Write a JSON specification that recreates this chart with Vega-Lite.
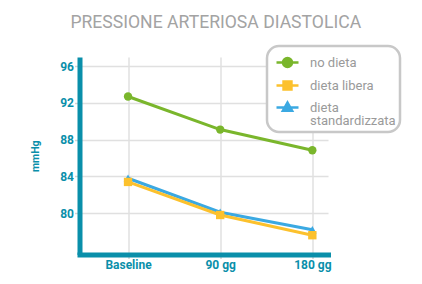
{
  "$schema": "https://vega.github.io/schema/vega-lite/v6.json",
  "width": 248.5,
  "height": 197.5,
  "autosize": {"type": "none"},
  "padding": {"left": 79.5, "top": 57, "right": 94, "bottom": 29.5},
  "background": "white",
  "title": {
    "text": "PRESSIONE ARTERIOSA DIASTOLICA",
    "anchor": "middle",
    "fontSize": 17.6,
    "fontWeight": "normal",
    "color": "#a3a3a3",
    "font": "Roboto",
    "baseline": "alphabetic",
    "offset": -1,
    "dx": 12
  },
  "data": {
    "values": [
      {"giorni": 0, "mmHg": 92.7, "gruppo": "no dieta"},
      {"giorni": 90, "mmHg": 89.1, "gruppo": "no dieta"},
      {"giorni": 180, "mmHg": 86.85, "gruppo": "no dieta"},
      {"giorni": 0, "mmHg": 83.8, "gruppo": "dieta standardizzata"},
      {"giorni": 90, "mmHg": 80.1, "gruppo": "dieta standardizzata"},
      {"giorni": 180, "mmHg": 78.2, "gruppo": "dieta standardizzata"},
      {"giorni": 0, "mmHg": 83.4, "gruppo": "dieta libera"},
      {"giorni": 90, "mmHg": 79.8, "gruppo": "dieta libera"},
      {"giorni": 180, "mmHg": 77.6, "gruppo": "dieta libera"}
    ]
  },
  "encoding": {
    "x": {
      "field": "giorni",
      "type": "quantitative",
      "scale": {"domain": [-47.4, 195.3], "nice": false, "zero": false},
      "axis": {
        "values": [0, 90, 180],
        "labelExpr": "datum.value == 0 ? 'Baseline' : datum.value + ' gg'",
        "title": null,
        "tickSize": 4,
        "labelPadding": 1,
        "domainCap": "square",
        "grid": true,
        "labelFlush": false
      }
    },
    "y": {
      "field": "mmHg",
      "type": "quantitative",
      "scale": {"domain": [75.5, 97], "nice": false, "zero": false},
      "axis": {
        "values": [80, 84, 88, 92, 96],
        "title": "mmHg",
        "tickSize": 5,
        "labelPadding": 1,
        "titlePadding": 19,
        "grid": true
      }
    },
    "color": {
      "field": "gruppo",
      "type": "nominal",
      "scale": {
        "domain": ["no dieta", "dieta libera", "dieta standardizzata"],
        "range": ["#7ab62c", "#fcc12d", "#3ba9e2"]
      },
      "legend": {
        "orient": "none",
        "legendX": 187.5,
        "legendY": -11,
        "title": null,
        "labelExpr": "datum.label == 'dieta standardizzata' ? ['dieta', 'standardizzata'] : datum.label",
        "encode": {
          "symbols": {
            "update": {
              "shape": {"signal": "datum.value == 'no dieta' ? 'M-1,0H1M-0.41,0A0.41,0.41 0 1,1 0.41,0A0.41,0.41 0 1,1 -0.41,0Z' : datum.value == 'dieta libera' ? 'M-1,0H1M-0.36,-0.36H0.36V0.36H-0.36Z' : 'M-1,0H1M0,-0.45L0.42,0.3H-0.42Z'"},
              "fill": {"scale": "color", "field": "value"},
              "stroke": {"scale": "color", "field": "value"},
              "strokeWidth": {"value": 2.5},
              "opacity": {"value": 1}
            }
          },
          "labels": {"update": {"lineHeight": {"value": 13.5}}},
          "legend": {"update": {"strokeWidth": {"value": 2.5}}}
        }
      }
    }
  },
  "layer": [
    {"mark": {"type": "line", "strokeWidth": 3}},
    {
      "transform": [{"filter": "datum.gruppo == 'no dieta'"}],
      "mark": {"type": "point", "filled": true, "opacity": 1, "size": 70, "shape": "circle"}
    },
    {
      "transform": [{"filter": "datum.gruppo == 'dieta standardizzata'"}],
      "mark": {"type": "point", "filled": true, "opacity": 1, "size": 75, "shape": "triangle-up"}
    },
    {
      "transform": [{"filter": "datum.gruppo == 'dieta libera'"}],
      "mark": {"type": "point", "filled": true, "opacity": 1, "size": 70, "shape": "square"}
    }
  ],
  "config": {
    "font": "Roboto",
    "view": {"stroke": null},
    "axis": {
      "labelFont": "Roboto",
      "labelFontWeight": "bold",
      "labelColor": "#0a8faa",
      "labelFontSize": 12,
      "titleFont": "Roboto",
      "titleColor": "#0a8faa",
      "titleFontWeight": "bold",
      "titleFontSize": 10.5,
      "domainColor": "#0a8faa",
      "domainWidth": 5,
      "tickColor": "#d4d4d4",
      "tickWidth": 1.5,
      "gridColor": "#e0e0e0",
      "gridWidth": 1.5
    },
    "legend": {
      "labelFont": "Roboto",
      "labelFontSize": 13,
      "labelColor": "#9a9a9a",
      "symbolSize": 484,
      "labelOffset": 10,
      "padding": 4,
      "symbolOffset": 4,
      "strokeColor": "#c8c8c8",
      "cornerRadius": 12,
      "fillColor": "white",
      "rowPadding": 0,
      "labelLimit": 200
    }
  }
}
